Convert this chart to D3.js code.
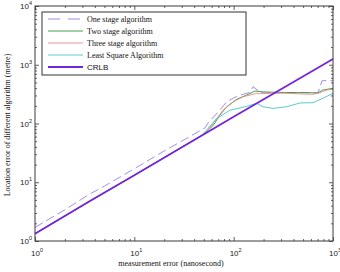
<!DOCTYPE html>
<html>
<head>
<meta charset="utf-8">
<script src="https://cdn.jsdelivr.net/npm/d3@7"></script>
<style>
body { margin: 0; background: #fff; }
</style>
</head>
<body>
<div id="chart"></div>
<script>
// axis ticks
const xTickVals = [1, 10, 100, 1000];
const yTickVals = [1, 10, 100, 1000, 10000];
const seriesNames = ['One stage algorithm', 'Two stage algorithm', 'Three stage algorithm', 'Least Square Algorithm', 'CRLB'];

// series, [measurement error (ns), location error (m)]
const oneStage = [[1, 1.7], [2, 3.4], [3.5, 6.2], [5, 8.6], [10, 17], [20, 34], [40, 66], [51.4, 84],
  [55.2, 102], [72.9, 170], [85.1, 235], [107.3, 290], [146, 340], [156.6, 423], [184.2, 343],
  [197.4, 330], [300, 332], [500, 335], [706, 330], [775, 535], [1000, 535]];
const twoStage = [[1, 1.33], [10, 13.2], [50, 66], [62, 92], [72.9, 140], [85.1, 193], [107.3, 258],
  [135.3, 305], [163.8, 357], [197.4, 345], [300, 338], [500, 335], [706, 332], [793, 372], [1000, 397]];
const threeStage = [[1, 1.33], [10, 13.2], [52, 68], [61.9, 100], [78.1, 168], [98.5, 232], [124.2, 285],
  [170.6, 326], [197.4, 326], [300, 330], [500, 318], [629, 315], [706, 326], [864, 371], [1000, 382]];
const leastSquare = [[1, 1.33], [10, 13.2], [48, 63], [51.4, 72], [67.5, 122], [91.9, 168], [135.3, 196],
  [170.6, 221], [197.4, 193], [248.7, 181], [341.9, 193], [465.4, 224], [629, 226], [793, 269], [1000, 327]];
const crlb = [[1, 1.33], [3.5, 4.7], [10, 13.2], [100, 130], [1000, 1250]];

const colors = ['#9b80e8', '#2e963c', '#ee8888', '#45c6c6', '#7424dc'];

const width = 340, height = 272;
const margin = {left: 35, right: 7, top: 6, bottom: 31};
const w = width - margin.left - margin.right;
const h = height - margin.top - margin.bottom;

const svg = d3.select('#chart').append('svg')
  .attr('width', width)
  .attr('height', height)
  .style('font-family', 'Liberation Sans, Arial, sans-serif');

const g = svg.append('g').attr('transform', `translate(${margin.left},${margin.top})`);

const xScale = d3.scaleLog().domain([1, 1000]).range([0, w]);
const yScale = d3.scaleLog().domain([1, 10000]).range([h, 0]);

// minor + major ticks, pointing inward on all four sides
const xMinor = xScale.ticks().filter(d => !xTickVals.includes(d));
const yMinor = yScale.ticks().filter(d => !yTickVals.includes(d));

const axisColor = '#3a3a3a';
function tickAxis(axis, sel, vals, size) {
  sel.call(axis.tickValues(vals).tickSize(size).tickFormat(''));
  sel.select('.domain').remove();
  sel.selectAll('line').attr('stroke', axisColor).attr('stroke-width', 0.8);
}
const bottomMaj = g.append('g').attr('transform', `translate(0,${h})`);
tickAxis(d3.axisBottom(xScale), bottomMaj, xTickVals, -4);
const bottomMin = g.append('g').attr('transform', `translate(0,${h})`);
tickAxis(d3.axisBottom(xScale), bottomMin, xMinor, -2);
const topMaj = g.append('g');
tickAxis(d3.axisTop(xScale), topMaj, xTickVals, -4);
const topMin = g.append('g');
tickAxis(d3.axisTop(xScale), topMin, xMinor, -2);
const leftMaj = g.append('g');
tickAxis(d3.axisLeft(yScale), leftMaj, yTickVals, -4);
const leftMin = g.append('g');
tickAxis(d3.axisLeft(yScale), leftMin, yMinor, -2);
const rightMaj = g.append('g').attr('transform', `translate(${w},0)`);
tickAxis(d3.axisRight(yScale), rightMaj, yTickVals, -4);
const rightMin = g.append('g').attr('transform', `translate(${w},0)`);
tickAxis(d3.axisRight(yScale), rightMin, yMinor, -2);

// tick labels as 10 with superscript exponent
xTickVals.forEach(v => {
  const t = g.append('text')
    .attr('x', xScale(v) + 2)
    .attr('y', h + 15)
    .attr('text-anchor', 'middle')
    .attr('font-size', 8)
    .attr('fill', '#222');
  t.append('tspan').text('10');
  t.append('tspan').attr('font-size', 5.5).attr('dy', -4).text(Math.round(Math.log10(v)));
});
yTickVals.forEach(v => {
  const t = g.append('text')
    .attr('x', -3)
    .attr('y', yScale(v) + 3)
    .attr('text-anchor', 'end')
    .attr('font-size', 8)
    .attr('fill', '#222');
  t.append('tspan').text('10');
  t.append('tspan').attr('font-size', 5.5).attr('dy', -4).text(Math.round(Math.log10(v)));
});

// lines
const line = d3.line()
  .x(d => xScale(d[0]))
  .y(d => yScale(d[1]));

const allSeries = [oneStage, twoStage, threeStage, leastSquare, crlb];
allSeries.forEach((s, i) => {
  g.append('path')
    .datum(s)
    .attr('d', line)
    .attr('fill', 'none')
    .attr('stroke', colors[i])
    .attr('stroke-width', i === 4 ? 1.8 : 0.9)
    .attr('stroke-dasharray', i === 0 ? '9,4' : null);
});

// frame
g.append('rect')
  .attr('width', w)
  .attr('height', h)
  .attr('fill', 'none')
  .attr('stroke', axisColor)
  .attr('stroke-width', 1);

// legend
const legend = svg.append('g').attr('transform', 'translate(42,12)');
legend.append('rect')
  .attr('width', 204)
  .attr('height', 63)
  .attr('fill', '#fff')
  .attr('stroke', '#333')
  .attr('stroke-width', 1);
seriesNames.forEach((name, i) => {
  const y = 7 + i * 12;
  legend.append('line')
    .attr('x1', 6).attr('x2', 41)
    .attr('y1', y).attr('y2', y)
    .attr('stroke', colors[i])
    .attr('stroke-width', i === 4 ? 1.8 : 0.9)
    .attr('stroke-dasharray', i === 0 ? '12,8' : null);
  legend.append('text')
    .attr('x', 45)
    .attr('y', y + 3)
    .attr('font-size', 8)
    .attr('fill', '#111')
    .style('font-family', i === 4 ? 'Liberation Sans, Arial, sans-serif' : 'Liberation Serif, Times New Roman, serif')
    .text(name);
});

// axis titles
svg.append('text')
  .attr('x', 171)
  .attr('y', 266)
  .attr('text-anchor', 'middle')
  .attr('font-size', 8)
  .attr('fill', '#111')
  .style('font-family', 'Liberation Serif, Times New Roman, serif')
  .text('measurement error (nanosecond)');
svg.append('text')
  .attr('transform', 'translate(10,125) rotate(-90)')
  .attr('text-anchor', 'middle')
  .attr('font-size', 8)
  .attr('fill', '#111')
  .style('font-family', 'Liberation Serif, Times New Roman, serif')
  .text('Location error of different algorithm (metre)');
</script>
</body>
</html>
